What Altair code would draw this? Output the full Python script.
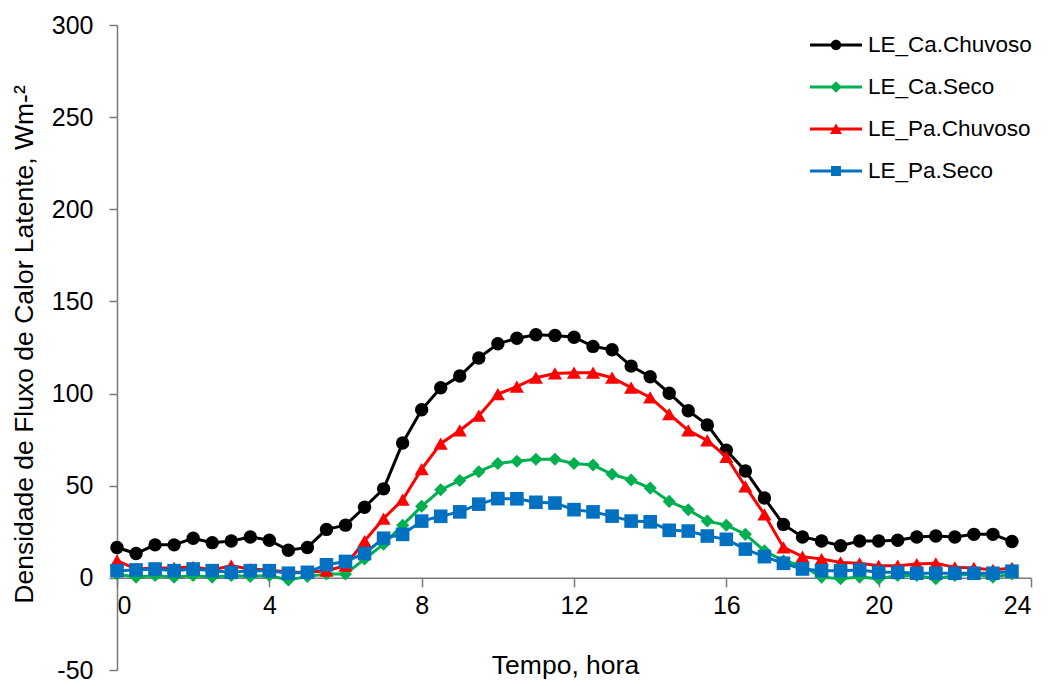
import altair as alt
import pandas as pd

# ---------------- data ----------------
hours = [0.0, 0.5, 1.0, 1.5, 2.0, 2.5, 3.0, 3.5, 4.0, 4.5, 5.0, 5.5,
         6.0, 6.5, 7.0, 7.5, 8.0, 8.5, 9.0, 9.5, 10.0, 10.5, 11.0, 11.5,
         12.0, 12.5, 13.0, 13.5, 14.0, 14.5, 15.0, 15.5, 16.0, 16.5, 17.0, 17.5,
         18.0, 18.5, 19.0, 19.5, 20.0, 20.5, 21.0, 21.5, 22.0, 22.5, 23.0, 23.5]

le_ca_chuvoso = [16.5, 13.2, 17.9, 17.9, 21.5, 19.1, 20.0, 22.2, 20.4, 15.0, 16.5, 26.3,
                 28.6, 38.3, 48.3, 73.2, 91.2, 103.2, 109.5, 119.3, 127.0, 130.0, 131.9, 131.5,
                 130.6, 125.6, 123.8, 114.9, 109.1, 100.2, 90.7, 83.0, 69.2, 58.0, 43.3, 29.0,
                 22.2, 20.0, 17.4, 20.0, 20.0, 20.4, 22.2, 22.7, 22.2, 23.6, 23.6, 19.7]

le_ca_seco = [2.1, 0.4, 1.3, 0.4, 1.3, 0.4, 1.3, 0.8, 1.3, -1.1, 0.8, 2.1,
              2.1, 10.2, 18.3, 28.6, 38.8, 47.8, 52.8, 57.6, 62.1, 63.3, 64.4, 64.4,
              62.1, 61.2, 56.2, 53.1, 48.7, 41.5, 37.0, 30.8, 28.6, 23.6, 14.7, 9.3,
              6.6, 0.4, -0.5, 0.4, -0.5, 1.3, 1.3, -0.5, 1.3, 2.1, 0.4, 2.1]

le_pa_chuvoso = [9.3, 4.8, 5.4, 5.4, 6.0, 4.3, 6.6, 4.8, 4.3, 3.0, 3.0, 3.9,
                 6.6, 20.0, 32.2, 42.4, 59.0, 72.8, 80.0, 88.0, 99.7, 103.8, 108.6, 110.9,
                 111.3, 111.3, 108.6, 103.2, 97.9, 88.9, 80.0, 74.6, 65.7, 49.6, 34.4, 16.5,
                 11.5, 10.2, 8.4, 7.9, 6.6, 6.6, 7.5, 7.9, 5.7, 5.4, 4.3, 5.4]

le_pa_seco = [3.9, 4.3, 4.8, 3.9, 4.8, 3.9, 3.0, 3.9, 3.9, 2.5, 3.0, 7.1,
              8.9, 13.2, 21.5, 23.6, 30.8, 33.4, 35.8, 40.0, 43.0, 42.9, 41.0, 40.6,
              37.0, 35.8, 33.5, 30.8, 30.4, 25.8, 25.4, 22.7, 20.9, 15.6, 11.5, 7.9,
              4.8, 3.9, 3.9, 4.3, 3.0, 3.0, 2.5, 2.5, 2.5, 2.5, 2.5, 3.6]

series_names = ["LE_Ca.Chuvoso", "LE_Ca.Seco", "LE_Pa.Chuvoso", "LE_Pa.Seco"]
series_values = [le_ca_chuvoso, le_ca_seco, le_pa_chuvoso, le_pa_seco]
series_colors = ["#000000", "#00B050", "#FF0000", "#0070C0"]
marker_shapes = ["circle", "diamond", "triangle-up", "square"]
marker_sizes = [180, 170, 200, 185]

x_ticks = [0, 4, 8, 12, 16, 20, 24]
y_ticks = [-50, 0, 50, 100, 150, 200, 250, 300]

# legend symbols: line segment + marker, in the -1..1 custom symbol box
legend_paths = [
    "M-1,-0.058H1V0.058H-1Z M-0.2,0A0.2,0.2 0 1,1 0.2,0A0.2,0.2 0 1,1 -0.2,0Z",
    "M-1,-0.058H1V0.058H-1Z M0,-0.22L0.22,0L0,0.22L-0.22,0Z",
    "M-1,-0.058H1V0.058H-1Z M0,-0.21L0.23,0.19L-0.23,0.19Z",
    "M-1,-0.058H1V0.058H-1Z M-0.19,-0.19H0.19V0.19H-0.19Z",
]

rows = []
for name, vals in zip(series_names, series_values):
    for h, v in zip(hours, vals):
        rows.append({"hour": h, "value": v, "series": name})
df = pd.DataFrame(rows)

# ---------------- layout ----------------
W, H = 914, 645
Y_MIN, Y_MAX = -50, 300
zero_offset = H * (0 - Y_MIN) / (Y_MAX - Y_MIN)

font = "Liberation Sans"
axis_col = "#7a7a7a"

x_scale = alt.Scale(domain=[0, 24], nice=False, zero=False)
y_scale = alt.Scale(domain=[Y_MIN, Y_MAX], nice=False, zero=False)

x_axis = alt.Axis(values=x_ticks, offset=-zero_offset, grid=False,
                  tickSize=9, tickColor=axis_col, domainColor=axis_col,
                  tickWidth=1.5, domainWidth=1.5,
                  labelFontSize=25, labelPadding=7, labelColor="black",
                  labelFont=font, labelExpr="'' + datum.value",
                  title="Tempo, hora", titleFontSize=26.5, titleFont=font,
                  titleFontWeight="normal", titleColor="black",
                  titleBaseline="alphabetic", titleY=96, titleX=448,
                  titleAlign="center")

y_axis = alt.Axis(values=y_ticks, grid=False,
                  tickSize=8, tickColor=axis_col, domainColor=axis_col,
                  tickWidth=1.5, domainWidth=1.5,
                  labelFontSize=25, labelPadding=16, labelColor="black",
                  labelFont=font, labelExpr="'' + datum.value",
                  title="Densidade de Fluxo de Calor Latente, Wm-²",
                  titleFontSize=26.5, titleFont=font, titleFontWeight="normal",
                  titleColor="black", titleAngle=270, titleX=-93, titleY=319,
                  titleAlign="center", titleBaseline="middle")

base = alt.Chart(df)
layers = []
for name, col, shp, sz in zip(series_names, series_colors, marker_shapes, marker_sizes):
    sub = base.transform_filter(alt.datum.series == name)
    enc = dict(
        x=alt.X("hour:Q", scale=x_scale, axis=x_axis),
        y=alt.Y("value:Q", scale=y_scale, axis=y_axis),
        color=alt.Color("series:N",
                        scale=alt.Scale(domain=series_names, range=series_colors),
                        legend=None),
    )
    layers.append(sub.mark_line(strokeWidth=3).encode(**enc))
    layers.append(sub.mark_point(shape=shp, size=sz, filled=True, opacity=1,
                                 strokeWidth=0).encode(**enc))

leg = alt.Legend(title=None, orient="none", legendX=693, legendY=-6,
                 symbolSize=2704, symbolStrokeWidth=0, symbolOpacity=1,
                 labelFontSize=22.5, labelFont=font, labelColor="black",
                 labelOffset=6, rowPadding=4, padding=0, labelLimit=400)

legend_layer = base.transform_filter(alt.datum.hour < -100).mark_point(
    filled=True, size=2704, opacity=1, strokeWidth=0
).encode(
    x=alt.X("hour:Q", scale=x_scale, axis=x_axis),
    y=alt.Y("value:Q", scale=y_scale, axis=y_axis),
    color=alt.Color("series:N",
                    scale=alt.Scale(domain=series_names, range=series_colors),
                    legend=leg),
    shape=alt.Shape("series:N",
                    scale=alt.Scale(domain=series_names, range=legend_paths),
                    legend=leg),
)
layers.append(legend_layer)

chart = alt.layer(*layers).resolve_scale(
    color="independent", shape="independent"
).properties(
    width=W, height=H,
    autosize=alt.AutoSizeParams(type="none"),
    padding={"left": 109, "top": 17, "right": 10, "bottom": 14},
).configure(font=font).configure_view(stroke=None)

chart.save("out.html", embed_options={"renderer": "svg", "actions": False})
